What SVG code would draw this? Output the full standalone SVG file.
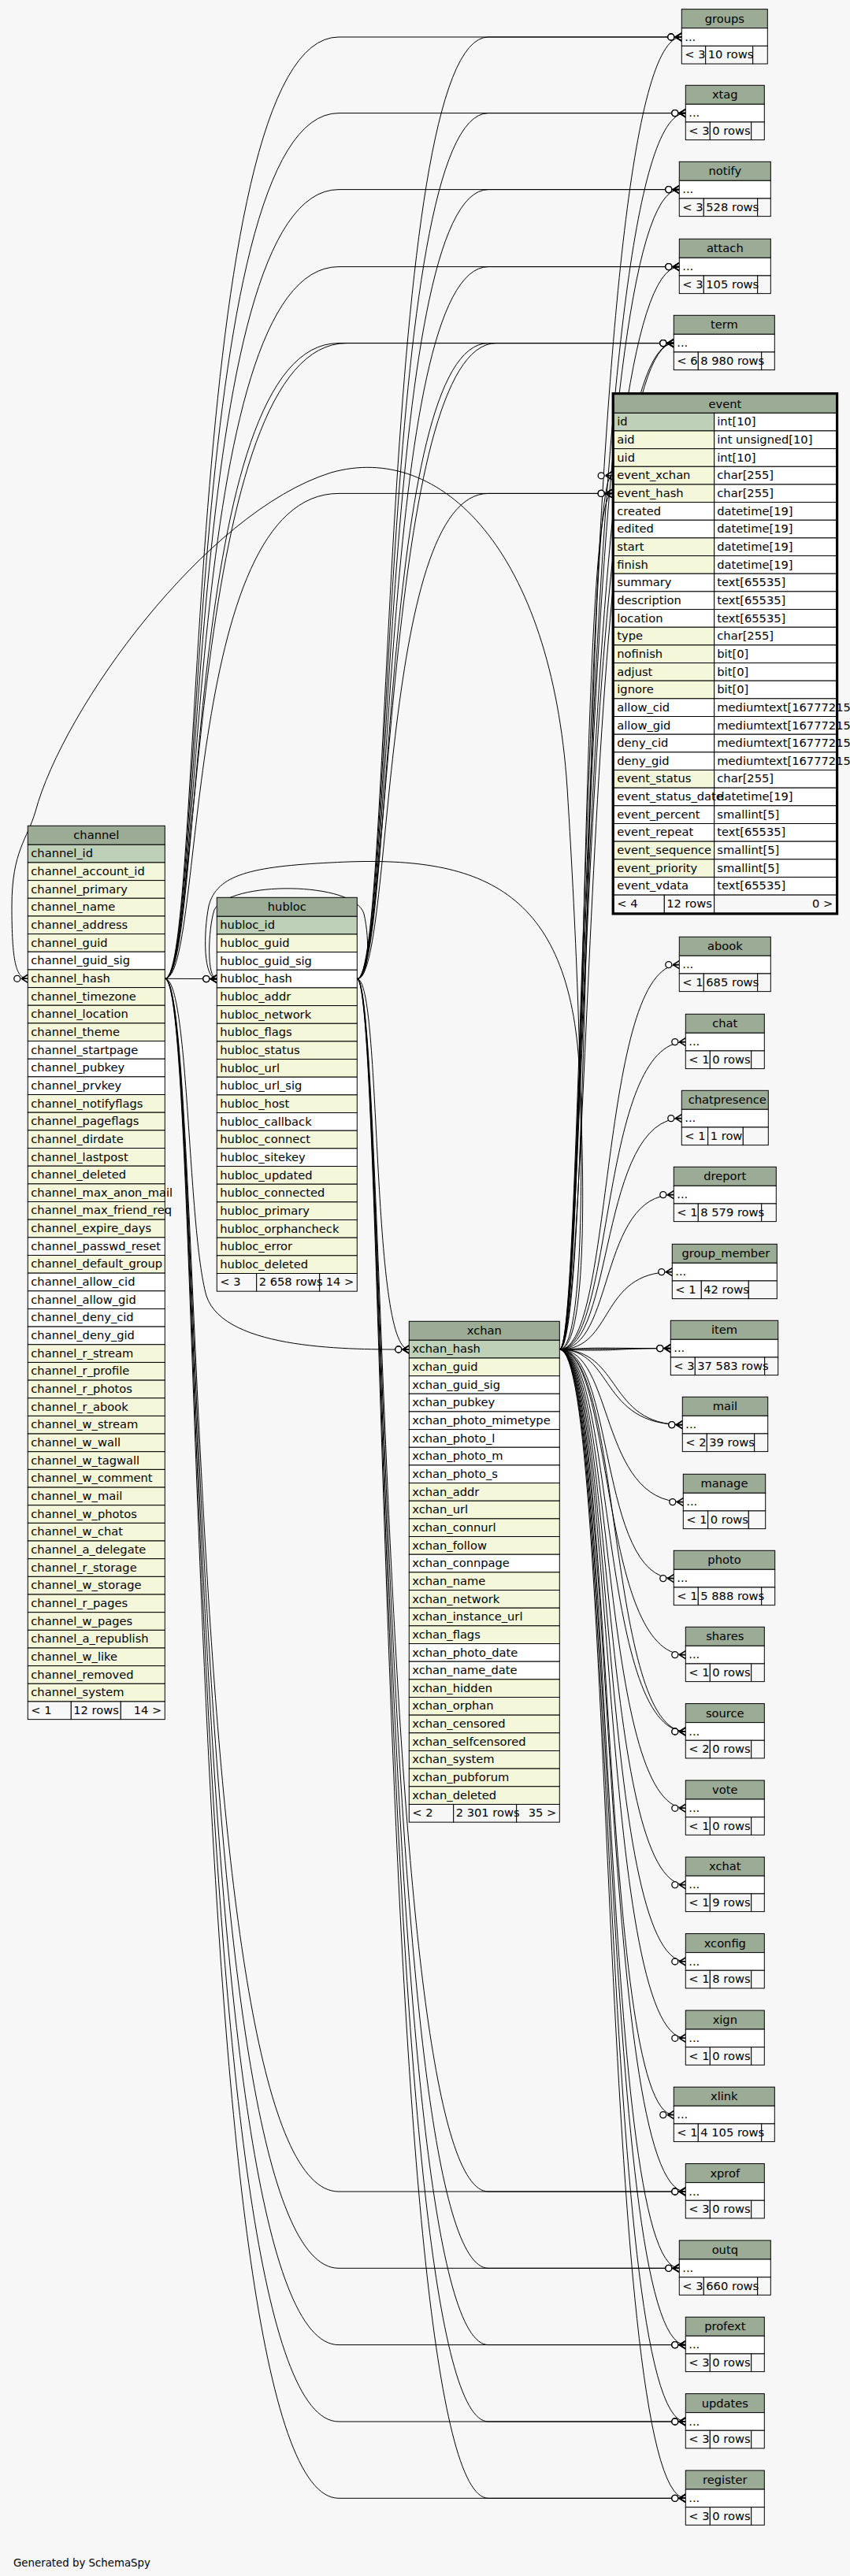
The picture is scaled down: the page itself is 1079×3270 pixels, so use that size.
<svg xmlns="http://www.w3.org/2000/svg" width="1079" height="3270" viewBox="0 0 1079 3270">
<defs>
<style>
text{font-family:"DejaVu Sans","Liberation Sans",sans-serif;font-size:14.67px;fill:#000}
.h{fill:#9bab96;stroke:#000}
.k{fill:#bed1b8;stroke:#000}
.i{fill:#f4f7da;stroke:#000}
.w{fill:#fff;stroke:#000}
.f{fill:#f7f7f7;stroke:#000}
.c{text-anchor:middle}
.r{text-anchor:end}
.e{fill:none;stroke:#000;stroke-width:1;marker-end:url(#cf)}
</style>
<marker id="cf" markerUnits="userSpaceOnUse" viewBox="0 0 20 12" markerWidth="20" markerHeight="12" refX="20" refY="6" orient="auto">
<path d="M12,6 L20,1 M12,6 L20,6 M12,6 L20,11" fill="none" stroke="#000" stroke-width="1.6"/>
<circle cx="6.5" cy="6" r="4" fill="#fff" stroke="#000" stroke-width="1.3"/>
</marker>
</defs>
<rect width="1079" height="3270" fill="#f7f7f7"/>
<g id="connectors">
<path class="e" d="M209.3,1242.3L275.3,1242.6"/>
<path class="e" d="M209.3,1242.3C240,1242.3 238,1560 262,1645C285,1715 450,1713 519.3,1713"/>
<path class="e" d="M453.3,1242.6C485,1242.6 470,1713 519.3,1713"/>
<path class="e" d="M710.3,1713C745,1713 745,1400 720,1000C700,700 560,560 420,600C260,650 80,900 45,1030C35,1065 15,1080 15,1150C15,1220 20,1242.3 35.3,1242.3"/>
<path class="e" d="M710.3,1713C740,1713 745,1550 735,1350C720,1120 600,1085 420,1095C320,1100 275,1110 265,1150C258,1185 258,1242.6 275.3,1242.6"/>
<path class="e" d="M453.3,1242.6C468,1242.6 470,1195 462,1160C450,1118 290,1118 272,1155C264,1180 262,1242.6 275.3,1242.6"/>
<path class="e" d="M710.3,1713C745,1713 735,47 865.3,47"/>
<path class="e" d="M710.3,1713C745,1713 735,143.6 870.3,143.6"/>
<path class="e" d="M710.3,1713C745,1713 735,240.6 862.3,240.6"/>
<path class="e" d="M710.3,1713C745,1713 735,338.6 862.3,338.6"/>
<path class="e" d="M710.3,1713C745,1713 735,435.6 855.3,435.6"/>
<path class="e" d="M710.3,1713C750,1713 742,435.6 855.3,435.6"/>
<path class="e" d="M710.3,1713C745,1713 735,626.4 776.7,626.4"/>
<path class="e" d="M710.3,1713C750,1713 742,603.8 776.7,603.8"/>
<path class="e" d="M209.3,1242.3C260,1242.3 230,47 430,47L865.3,47"/>
<path class="e" d="M209.3,1242.3C260,1242.3 230,143.6 430,143.6L870.3,143.6"/>
<path class="e" d="M209.3,1242.3C260,1242.3 230,240.6 430,240.6L862.3,240.6"/>
<path class="e" d="M209.3,1242.3C260,1242.3 230,338.6 430,338.6L862.3,338.6"/>
<path class="e" d="M209.3,1242.3C260,1242.3 230,435.6 430,435.6L855.3,435.6"/>
<path class="e" d="M209.3,1242.3C255,1242.3 238,435.6 440,435.6L855.3,435.6"/>
<path class="e" d="M209.3,1242.3C260,1242.3 230,626.4 430,626.4L776.7,626.4"/>
<path class="e" d="M453.3,1242.6C500,1242.6 480,47 620,47L865.3,47"/>
<path class="e" d="M453.3,1242.6C500,1242.6 480,143.6 620,143.6L870.3,143.6"/>
<path class="e" d="M453.3,1242.6C500,1242.6 480,240.6 620,240.6L862.3,240.6"/>
<path class="e" d="M453.3,1242.6C500,1242.6 480,338.6 620,338.6L862.3,338.6"/>
<path class="e" d="M453.3,1242.6C500,1242.6 480,435.6 620,435.6L855.3,435.6"/>
<path class="e" d="M453.3,1242.6C496,1242.6 487,435.6 630,435.6L855.3,435.6"/>
<path class="e" d="M453.3,1242.6C500,1242.6 480,626.4 620,626.4L776.7,626.4"/>
<path class="e" d="M710.3,1713C780,1713 760,1224.6 862.3,1224.6"/>
<path class="e" d="M710.3,1713C780,1713 760,1322.6 870.3,1322.6"/>
<path class="e" d="M710.3,1713C780,1713 760,1419.6 865.3,1419.6"/>
<path class="e" d="M710.3,1713C780,1713 760,1516.6 855.3,1516.6"/>
<path class="e" d="M710.3,1713C780,1713 760,1614.6 853.3,1614.6"/>
<path class="e" d="M710.3,1713C780,1713 760,1711.6 851.3,1711.6"/>
<path class="e" d="M710.3,1713C770,1710 750,1711.6 851.3,1711.6"/>
<path class="e" d="M710.3,1713C790,1716 770,1711.6 851.3,1711.6"/>
<path class="e" d="M710.3,1713C780,1713 760,1808.6 866.3,1808.6"/>
<path class="e" d="M710.3,1713C790,1713 770,1808.6 866.3,1808.6"/>
<path class="e" d="M710.3,1713C780,1713 760,1906.6 867.3,1906.6"/>
<path class="e" d="M710.3,1713C780,1713 760,2003.6 855.3,2003.6"/>
<path class="e" d="M710.3,1713C780,1713 760,2100.6 870.3,2100.6"/>
<path class="e" d="M710.3,1713C780,1713 760,2198 870.3,2198"/>
<path class="e" d="M710.3,1713C790,1713 770,2198 870.3,2198"/>
<path class="e" d="M710.3,1713C780,1713 760,2295.3 870.3,2295.3"/>
<path class="e" d="M710.3,1713C780,1713 760,2392.6 870.3,2392.6"/>
<path class="e" d="M710.3,1713C780,1713 760,2490 870.3,2490"/>
<path class="e" d="M710.3,1713C780,1713 760,2587.3 870.3,2587.3"/>
<path class="e" d="M710.3,1713C780,1713 760,2684.6 855.3,2684.6"/>
<path class="e" d="M710.3,1713C780,1713 760,2782 870.3,2782"/>
<path class="e" d="M710.3,1713C780,1713 760,2879.3 862.3,2879.3"/>
<path class="e" d="M710.3,1713C780,1713 760,2976.6 870.3,2976.6"/>
<path class="e" d="M710.3,1713C780,1713 760,3074 870.3,3074"/>
<path class="e" d="M710.3,1713C780,1713 760,3171.3 870.3,3171.3"/>
<path class="e" d="M209.3,1242.3C260,1242.3 230,2782 430,2782L870.3,2782"/>
<path class="e" d="M209.3,1242.3C260,1242.3 230,2879.3 430,2879.3L862.3,2879.3"/>
<path class="e" d="M209.3,1242.3C260,1242.3 230,2976.6 430,2976.6L870.3,2976.6"/>
<path class="e" d="M209.3,1242.3C260,1242.3 230,3074 430,3074L870.3,3074"/>
<path class="e" d="M209.3,1242.3C260,1242.3 230,3171.3 430,3171.3L870.3,3171.3"/>
<path class="e" d="M453.3,1242.6C490,1242.6 480,2782 620,2782L870.3,2782"/>
<path class="e" d="M453.3,1242.6C490,1242.6 480,2879.3 620,2879.3L862.3,2879.3"/>
<path class="e" d="M453.3,1242.6C490,1242.6 480,2976.6 620,2976.6L870.3,2976.6"/>
<path class="e" d="M453.3,1242.6C490,1242.6 480,3074 620,3074L870.3,3074"/>
<path class="e" d="M453.3,1242.6C490,1242.6 480,3171.3 620,3171.3L870.3,3171.3"/>
</g>
<g id="channel" transform="translate(35.3,1048.3)">
<rect class="h" width="174" height="24"/><text class="c" x="87" y="17">channel</text>
<rect class="k" y="24" width="174" height="22.66"/><text x="4" y="40">channel_id</text>
<rect class="i" y="46.66" width="174" height="22.66"/><text x="4" y="62.66">channel_account_id</text>
<rect class="i" y="69.32" width="174" height="22.66"/><text x="4" y="85.32">channel_primary</text>
<rect class="i" y="91.98" width="174" height="22.66"/><text x="4" y="107.98">channel_name</text>
<rect class="i" y="114.64" width="174" height="22.66"/><text x="4" y="130.64">channel_address</text>
<rect class="i" y="137.3" width="174" height="22.66"/><text x="4" y="153.3">channel_guid</text>
<rect class="w" y="159.96" width="174" height="22.66"/><text x="4" y="175.96">channel_guid_sig</text>
<rect class="i" y="182.62" width="174" height="22.66"/><text x="4" y="198.62">channel_hash</text>
<rect class="i" y="205.28" width="174" height="22.66"/><text x="4" y="221.28">channel_timezone</text>
<rect class="i" y="227.94" width="174" height="22.66"/><text x="4" y="243.94">channel_location</text>
<rect class="i" y="250.6" width="174" height="22.66"/><text x="4" y="266.6">channel_theme</text>
<rect class="w" y="273.26" width="174" height="22.66"/><text x="4" y="289.26">channel_startpage</text>
<rect class="w" y="295.92" width="174" height="22.66"/><text x="4" y="311.92">channel_pubkey</text>
<rect class="w" y="318.58" width="174" height="22.66"/><text x="4" y="334.58">channel_prvkey</text>
<rect class="i" y="341.24" width="174" height="22.66"/><text x="4" y="357.24">channel_notifyflags</text>
<rect class="i" y="363.9" width="174" height="22.66"/><text x="4" y="379.9">channel_pageflags</text>
<rect class="i" y="386.56" width="174" height="22.66"/><text x="4" y="402.56">channel_dirdate</text>
<rect class="i" y="409.22" width="174" height="22.66"/><text x="4" y="425.22">channel_lastpost</text>
<rect class="i" y="431.88" width="174" height="22.66"/><text x="4" y="447.88">channel_deleted</text>
<rect class="i" y="454.54" width="174" height="22.66"/><text x="4" y="470.54">channel_max_anon_mail</text>
<rect class="i" y="477.2" width="174" height="22.66"/><text x="4" y="493.2">channel_max_friend_req</text>
<rect class="i" y="499.86" width="174" height="22.66"/><text x="4" y="515.86">channel_expire_days</text>
<rect class="w" y="522.52" width="174" height="22.66"/><text x="4" y="538.52">channel_passwd_reset</text>
<rect class="i" y="545.18" width="174" height="22.66"/><text x="4" y="561.18">channel_default_group</text>
<rect class="w" y="567.84" width="174" height="22.66"/><text x="4" y="583.84">channel_allow_cid</text>
<rect class="w" y="590.5" width="174" height="22.66"/><text x="4" y="606.5">channel_allow_gid</text>
<rect class="w" y="613.16" width="174" height="22.66"/><text x="4" y="629.16">channel_deny_cid</text>
<rect class="w" y="635.82" width="174" height="22.66"/><text x="4" y="651.82">channel_deny_gid</text>
<rect class="i" y="658.48" width="174" height="22.66"/><text x="4" y="674.48">channel_r_stream</text>
<rect class="i" y="681.14" width="174" height="22.66"/><text x="4" y="697.14">channel_r_profile</text>
<rect class="i" y="703.8" width="174" height="22.66"/><text x="4" y="719.8">channel_r_photos</text>
<rect class="i" y="726.46" width="174" height="22.66"/><text x="4" y="742.46">channel_r_abook</text>
<rect class="i" y="749.12" width="174" height="22.66"/><text x="4" y="765.12">channel_w_stream</text>
<rect class="i" y="771.78" width="174" height="22.66"/><text x="4" y="787.78">channel_w_wall</text>
<rect class="i" y="794.44" width="174" height="22.66"/><text x="4" y="810.44">channel_w_tagwall</text>
<rect class="i" y="817.1" width="174" height="22.66"/><text x="4" y="833.1">channel_w_comment</text>
<rect class="i" y="839.76" width="174" height="22.66"/><text x="4" y="855.76">channel_w_mail</text>
<rect class="i" y="862.42" width="174" height="22.66"/><text x="4" y="878.42">channel_w_photos</text>
<rect class="i" y="885.08" width="174" height="22.66"/><text x="4" y="901.08">channel_w_chat</text>
<rect class="i" y="907.74" width="174" height="22.66"/><text x="4" y="923.74">channel_a_delegate</text>
<rect class="i" y="930.4" width="174" height="22.66"/><text x="4" y="946.4">channel_r_storage</text>
<rect class="i" y="953.06" width="174" height="22.66"/><text x="4" y="969.06">channel_w_storage</text>
<rect class="i" y="975.72" width="174" height="22.66"/><text x="4" y="991.72">channel_r_pages</text>
<rect class="i" y="998.38" width="174" height="22.66"/><text x="4" y="1014.38">channel_w_pages</text>
<rect class="i" y="1021.04" width="174" height="22.66"/><text x="4" y="1037.04">channel_a_republish</text>
<rect class="i" y="1043.7" width="174" height="22.66"/><text x="4" y="1059.7">channel_w_like</text>
<rect class="i" y="1066.36" width="174" height="22.66"/><text x="4" y="1082.36">channel_removed</text>
<rect class="i" y="1089.02" width="174" height="22.66"/><text x="4" y="1105.02">channel_system</text>
<rect class="f" y="1111.68" width="55" height="22.66"/><rect class="f" x="55" y="1111.68" width="63" height="22.66"/><rect class="f" x="118" y="1111.68" width="56" height="22.66"/>
<text x="4" y="1127.68">&lt; 1</text><text x="58" y="1127.68">12 rows</text><text class="r" x="170" y="1127.68">14 &gt;</text>
</g>
<g id="hubloc" transform="translate(275.3,1139.3)">
<rect class="h" width="178" height="24"/><text class="c" x="89" y="17">hubloc</text>
<rect class="k" y="24" width="178" height="22.66"/><text x="4" y="40">hubloc_id</text>
<rect class="i" y="46.66" width="178" height="22.66"/><text x="4" y="62.66">hubloc_guid</text>
<rect class="w" y="69.32" width="178" height="22.66"/><text x="4" y="85.32">hubloc_guid_sig</text>
<rect class="w" y="91.98" width="178" height="22.66"/><text x="4" y="107.98">hubloc_hash</text>
<rect class="i" y="114.64" width="178" height="22.66"/><text x="4" y="130.64">hubloc_addr</text>
<rect class="i" y="137.3" width="178" height="22.66"/><text x="4" y="153.3">hubloc_network</text>
<rect class="i" y="159.96" width="178" height="22.66"/><text x="4" y="175.96">hubloc_flags</text>
<rect class="i" y="182.62" width="178" height="22.66"/><text x="4" y="198.62">hubloc_status</text>
<rect class="i" y="205.28" width="178" height="22.66"/><text x="4" y="221.28">hubloc_url</text>
<rect class="w" y="227.94" width="178" height="22.66"/><text x="4" y="243.94">hubloc_url_sig</text>
<rect class="i" y="250.6" width="178" height="22.66"/><text x="4" y="266.6">hubloc_host</text>
<rect class="w" y="273.26" width="178" height="22.66"/><text x="4" y="289.26">hubloc_callback</text>
<rect class="i" y="295.92" width="178" height="22.66"/><text x="4" y="311.92">hubloc_connect</text>
<rect class="w" y="318.58" width="178" height="22.66"/><text x="4" y="334.58">hubloc_sitekey</text>
<rect class="i" y="341.24" width="178" height="22.66"/><text x="4" y="357.24">hubloc_updated</text>
<rect class="i" y="363.9" width="178" height="22.66"/><text x="4" y="379.9">hubloc_connected</text>
<rect class="i" y="386.56" width="178" height="22.66"/><text x="4" y="402.56">hubloc_primary</text>
<rect class="i" y="409.22" width="178" height="22.66"/><text x="4" y="425.22">hubloc_orphancheck</text>
<rect class="i" y="431.88" width="178" height="22.66"/><text x="4" y="447.88">hubloc_error</text>
<rect class="i" y="454.54" width="178" height="22.66"/><text x="4" y="470.54">hubloc_deleted</text>
<rect class="f" y="477.2" width="50.4" height="22.66"/><rect class="f" x="50.4" y="477.2" width="80" height="22.66"/><rect class="f" x="130.4" y="477.2" width="47.6" height="22.66"/>
<text x="4" y="493.2">&lt; 3</text><text x="53.4" y="493.2">2 658 rows</text><text class="r" x="174" y="493.2">14 &gt;</text>
</g>
<g id="xchan" transform="translate(519.3,1677.3)">
<rect class="h" width="191" height="24"/><text class="c" x="95.5" y="17">xchan</text>
<rect class="k" y="24" width="191" height="22.66"/><text x="4" y="40">xchan_hash</text>
<rect class="i" y="46.66" width="191" height="22.66"/><text x="4" y="62.66">xchan_guid</text>
<rect class="w" y="69.32" width="191" height="22.66"/><text x="4" y="85.32">xchan_guid_sig</text>
<rect class="w" y="91.98" width="191" height="22.66"/><text x="4" y="107.98">xchan_pubkey</text>
<rect class="w" y="114.64" width="191" height="22.66"/><text x="4" y="130.64">xchan_photo_mimetype</text>
<rect class="w" y="137.3" width="191" height="22.66"/><text x="4" y="153.3">xchan_photo_l</text>
<rect class="w" y="159.96" width="191" height="22.66"/><text x="4" y="175.96">xchan_photo_m</text>
<rect class="w" y="182.62" width="191" height="22.66"/><text x="4" y="198.62">xchan_photo_s</text>
<rect class="i" y="205.28" width="191" height="22.66"/><text x="4" y="221.28">xchan_addr</text>
<rect class="i" y="227.94" width="191" height="22.66"/><text x="4" y="243.94">xchan_url</text>
<rect class="i" y="250.6" width="191" height="22.66"/><text x="4" y="266.6">xchan_connurl</text>
<rect class="i" y="273.26" width="191" height="22.66"/><text x="4" y="289.26">xchan_follow</text>
<rect class="w" y="295.92" width="191" height="22.66"/><text x="4" y="311.92">xchan_connpage</text>
<rect class="i" y="318.58" width="191" height="22.66"/><text x="4" y="334.58">xchan_name</text>
<rect class="i" y="341.24" width="191" height="22.66"/><text x="4" y="357.24">xchan_network</text>
<rect class="i" y="363.9" width="191" height="22.66"/><text x="4" y="379.9">xchan_instance_url</text>
<rect class="i" y="386.56" width="191" height="22.66"/><text x="4" y="402.56">xchan_flags</text>
<rect class="w" y="409.22" width="191" height="22.66"/><text x="4" y="425.22">xchan_photo_date</text>
<rect class="w" y="431.88" width="191" height="22.66"/><text x="4" y="447.88">xchan_name_date</text>
<rect class="i" y="454.54" width="191" height="22.66"/><text x="4" y="470.54">xchan_hidden</text>
<rect class="i" y="477.2" width="191" height="22.66"/><text x="4" y="493.2">xchan_orphan</text>
<rect class="i" y="499.86" width="191" height="22.66"/><text x="4" y="515.86">xchan_censored</text>
<rect class="i" y="522.52" width="191" height="22.66"/><text x="4" y="538.52">xchan_selfcensored</text>
<rect class="i" y="545.18" width="191" height="22.66"/><text x="4" y="561.18">xchan_system</text>
<rect class="i" y="567.84" width="191" height="22.66"/><text x="4" y="583.84">xchan_pubforum</text>
<rect class="i" y="590.5" width="191" height="22.66"/><text x="4" y="606.5">xchan_deleted</text>
<rect class="f" y="613.16" width="56.4" height="22.66"/><rect class="f" x="56.4" y="613.16" width="80" height="22.66"/><rect class="f" x="136.4" y="613.16" width="54.6" height="22.66"/>
<text x="4" y="629.16">&lt; 2</text><text x="59.4" y="629.16">2 301 rows</text><text class="r" x="187" y="629.16">35 &gt;</text>
</g>
<g id="event" transform="translate(779.3,500.7)">
<rect class="h" width="282.2" height="23.6"/><text class="c" x="141.1" y="17">event</text>
<rect class="k" y="23.6" width="127.4" height="22.66"/><rect class="w" x="127.4" y="23.6" width="154.8" height="22.66"/><text x="4" y="39.6">id</text><text x="131" y="39.6">int[10]</text>
<rect class="i" y="46.26" width="127.4" height="22.66"/><rect class="w" x="127.4" y="46.26" width="154.8" height="22.66"/><text x="4" y="62.26">aid</text><text x="131" y="62.26">int unsigned[10]</text>
<rect class="i" y="68.92" width="127.4" height="22.66"/><rect class="w" x="127.4" y="68.92" width="154.8" height="22.66"/><text x="4" y="84.92">uid</text><text x="131" y="84.92">int[10]</text>
<rect class="i" y="91.58" width="127.4" height="22.66"/><rect class="w" x="127.4" y="91.58" width="154.8" height="22.66"/><text x="4" y="107.58">event_xchan</text><text x="131" y="107.58">char[255]</text>
<rect class="i" y="114.24" width="127.4" height="22.66"/><rect class="w" x="127.4" y="114.24" width="154.8" height="22.66"/><text x="4" y="130.24">event_hash</text><text x="131" y="130.24">char[255]</text>
<rect class="w" y="136.9" width="127.4" height="22.66"/><rect class="w" x="127.4" y="136.9" width="154.8" height="22.66"/><text x="4" y="152.9">created</text><text x="131" y="152.9">datetime[19]</text>
<rect class="w" y="159.56" width="127.4" height="22.66"/><rect class="w" x="127.4" y="159.56" width="154.8" height="22.66"/><text x="4" y="175.56">edited</text><text x="131" y="175.56">datetime[19]</text>
<rect class="i" y="182.22" width="127.4" height="22.66"/><rect class="w" x="127.4" y="182.22" width="154.8" height="22.66"/><text x="4" y="198.22">start</text><text x="131" y="198.22">datetime[19]</text>
<rect class="i" y="204.88" width="127.4" height="22.66"/><rect class="w" x="127.4" y="204.88" width="154.8" height="22.66"/><text x="4" y="220.88">finish</text><text x="131" y="220.88">datetime[19]</text>
<rect class="w" y="227.54" width="127.4" height="22.66"/><rect class="w" x="127.4" y="227.54" width="154.8" height="22.66"/><text x="4" y="243.54">summary</text><text x="131" y="243.54">text[65535]</text>
<rect class="w" y="250.2" width="127.4" height="22.66"/><rect class="w" x="127.4" y="250.2" width="154.8" height="22.66"/><text x="4" y="266.2">description</text><text x="131" y="266.2">text[65535]</text>
<rect class="w" y="272.86" width="127.4" height="22.66"/><rect class="w" x="127.4" y="272.86" width="154.8" height="22.66"/><text x="4" y="288.86">location</text><text x="131" y="288.86">text[65535]</text>
<rect class="i" y="295.52" width="127.4" height="22.66"/><rect class="w" x="127.4" y="295.52" width="154.8" height="22.66"/><text x="4" y="311.52">type</text><text x="131" y="311.52">char[255]</text>
<rect class="i" y="318.18" width="127.4" height="22.66"/><rect class="w" x="127.4" y="318.18" width="154.8" height="22.66"/><text x="4" y="334.18">nofinish</text><text x="131" y="334.18">bit[0]</text>
<rect class="i" y="340.84" width="127.4" height="22.66"/><rect class="w" x="127.4" y="340.84" width="154.8" height="22.66"/><text x="4" y="356.84">adjust</text><text x="131" y="356.84">bit[0]</text>
<rect class="i" y="363.5" width="127.4" height="22.66"/><rect class="w" x="127.4" y="363.5" width="154.8" height="22.66"/><text x="4" y="379.5">ignore</text><text x="131" y="379.5">bit[0]</text>
<rect class="w" y="386.16" width="127.4" height="22.66"/><rect class="w" x="127.4" y="386.16" width="154.8" height="22.66"/><text x="4" y="402.16">allow_cid</text><text x="131" y="402.16">mediumtext[16777215]</text>
<rect class="w" y="408.82" width="127.4" height="22.66"/><rect class="w" x="127.4" y="408.82" width="154.8" height="22.66"/><text x="4" y="424.82">allow_gid</text><text x="131" y="424.82">mediumtext[16777215]</text>
<rect class="w" y="431.48" width="127.4" height="22.66"/><rect class="w" x="127.4" y="431.48" width="154.8" height="22.66"/><text x="4" y="447.48">deny_cid</text><text x="131" y="447.48">mediumtext[16777215]</text>
<rect class="w" y="454.14" width="127.4" height="22.66"/><rect class="w" x="127.4" y="454.14" width="154.8" height="22.66"/><text x="4" y="470.14">deny_gid</text><text x="131" y="470.14">mediumtext[16777215]</text>
<rect class="i" y="476.8" width="127.4" height="22.66"/><rect class="w" x="127.4" y="476.8" width="154.8" height="22.66"/><text x="4" y="492.8">event_status</text><text x="131" y="492.8">char[255]</text>
<rect class="w" y="499.46" width="127.4" height="22.66"/><rect class="w" x="127.4" y="499.46" width="154.8" height="22.66"/><text x="4" y="515.46">event_status_date</text><text x="131" y="515.46">datetime[19]</text>
<rect class="w" y="522.12" width="127.4" height="22.66"/><rect class="w" x="127.4" y="522.12" width="154.8" height="22.66"/><text x="4" y="538.12">event_percent</text><text x="131" y="538.12">smallint[5]</text>
<rect class="w" y="544.78" width="127.4" height="22.66"/><rect class="w" x="127.4" y="544.78" width="154.8" height="22.66"/><text x="4" y="560.78">event_repeat</text><text x="131" y="560.78">text[65535]</text>
<rect class="i" y="567.44" width="127.4" height="22.66"/><rect class="w" x="127.4" y="567.44" width="154.8" height="22.66"/><text x="4" y="583.44">event_sequence</text><text x="131" y="583.44">smallint[5]</text>
<rect class="i" y="590.1" width="127.4" height="22.66"/><rect class="w" x="127.4" y="590.1" width="154.8" height="22.66"/><text x="4" y="606.1">event_priority</text><text x="131" y="606.1">smallint[5]</text>
<rect class="w" y="612.76" width="127.4" height="22.66"/><rect class="w" x="127.4" y="612.76" width="154.8" height="22.66"/><text x="4" y="628.76">event_vdata</text><text x="131" y="628.76">text[65535]</text>
<rect class="f" y="635.42" width="64" height="22.66"/><rect class="f" x="64" y="635.42" width="63.4" height="22.66"/><rect class="f" x="127.4" y="635.42" width="154.8" height="22.66"/>
<text x="4" y="651.42">&lt; 4</text><text x="67" y="651.42">12 rows</text><text class="r" x="278" y="651.42">0 &gt;</text>
<rect x="-1.4" y="-1.4" width="285" height="660.9" fill="none" stroke="#000" stroke-width="2.6"/>
</g>
<g id="groups" transform="translate(865.3,11.7)"><rect class="h" width="109" height="24"/><text class="c" x="54.5" y="17">groups</text><rect class="w" y="24" width="109" height="22.66"/><text x="4" y="40">...</text><rect class="f" y="46.66" width="30.4" height="22.66"/><rect class="f" x="30.4" y="46.66" width="60" height="22.66"/><rect class="f" x="90.4" y="46.66" width="18.6" height="22.66"/><text x="4" y="62.66">&lt; 3</text><text x="33.4" y="62.66">10 rows</text></g>
<g id="xtag" transform="translate(870.3,108.3)"><rect class="h" width="100" height="24"/><text class="c" x="50" y="17">xtag</text><rect class="w" y="24" width="100" height="22.66"/><text x="4" y="40">...</text><rect class="f" y="46.66" width="31" height="22.66"/><rect class="f" x="31" y="46.66" width="52.4" height="22.66"/><rect class="f" x="83.4" y="46.66" width="16.6" height="22.66"/><text x="4" y="62.66">&lt; 3</text><text x="34" y="62.66">0 rows</text></g>
<g id="notify" transform="translate(862.3,205.3)"><rect class="h" width="116" height="24"/><text class="c" x="58" y="17">notify</text><rect class="w" y="24" width="116" height="22.66"/><text x="4" y="40">...</text><rect class="f" y="46.66" width="31" height="22.66"/><rect class="f" x="31" y="46.66" width="68.4" height="22.66"/><rect class="f" x="99.4" y="46.66" width="16.6" height="22.66"/><text x="4" y="62.66">&lt; 3</text><text x="34" y="62.66">528 rows</text></g>
<g id="attach" transform="translate(862.3,303.3)"><rect class="h" width="116" height="24"/><text class="c" x="58" y="17">attach</text><rect class="w" y="24" width="116" height="22.66"/><text x="4" y="40">...</text><rect class="f" y="46.66" width="31" height="22.66"/><rect class="f" x="31" y="46.66" width="68.4" height="22.66"/><rect class="f" x="99.4" y="46.66" width="16.6" height="22.66"/><text x="4" y="62.66">&lt; 3</text><text x="34" y="62.66">105 rows</text></g>
<g id="term" transform="translate(855.3,400.3)"><rect class="h" width="128" height="24"/><text class="c" x="64" y="17">term</text><rect class="w" y="24" width="128" height="22.66"/><text x="4" y="40">...</text><rect class="f" y="46.66" width="31" height="22.66"/><rect class="f" x="31" y="46.66" width="80.4" height="22.66"/><rect class="f" x="111.4" y="46.66" width="16.6" height="22.66"/><text x="4" y="62.66">&lt; 6</text><text x="34" y="62.66">8 980 rows</text></g>
<g id="abook" transform="translate(862.3,1189.3)"><rect class="h" width="116" height="24"/><text class="c" x="58" y="17">abook</text><rect class="w" y="24" width="116" height="22.66"/><text x="4" y="40">...</text><rect class="f" y="46.66" width="31" height="22.66"/><rect class="f" x="31" y="46.66" width="68.4" height="22.66"/><rect class="f" x="99.4" y="46.66" width="16.6" height="22.66"/><text x="4" y="62.66">&lt; 1</text><text x="34" y="62.66">685 rows</text></g>
<g id="chat" transform="translate(870.3,1287.3)"><rect class="h" width="100" height="24"/><text class="c" x="50" y="17">chat</text><rect class="w" y="24" width="100" height="22.66"/><text x="4" y="40">...</text><rect class="f" y="46.66" width="31" height="22.66"/><rect class="f" x="31" y="46.66" width="52.4" height="22.66"/><rect class="f" x="83.4" y="46.66" width="16.6" height="22.66"/><text x="4" y="62.66">&lt; 1</text><text x="34" y="62.66">0 rows</text></g>
<g id="chatpresence" transform="translate(865.3,1384.3)"><rect class="h" width="110" height="24"/><text class="c" x="58" y="17">chatpresence</text><rect class="w" y="24" width="110" height="22.66"/><text x="4" y="40">...</text><rect class="f" y="46.66" width="33.4" height="22.66"/><rect class="f" x="33.4" y="46.66" width="44.6" height="22.66"/><rect class="f" x="78" y="46.66" width="32" height="22.66"/><text x="4" y="62.66">&lt; 1</text><text x="36.4" y="62.66">1 row</text></g>
<g id="dreport" transform="translate(855.3,1481.3)"><rect class="h" width="130" height="24"/><text class="c" x="65" y="17">dreport</text><rect class="w" y="24" width="130" height="22.66"/><text x="4" y="40">...</text><rect class="f" y="46.66" width="31" height="22.66"/><rect class="f" x="31" y="46.66" width="80.4" height="22.66"/><rect class="f" x="111.4" y="46.66" width="18.6" height="22.66"/><text x="4" y="62.66">&lt; 1</text><text x="34" y="62.66">8 579 rows</text></g>
<g id="group_member" transform="translate(853.3,1579.3)"><rect class="h" width="133" height="24"/><text class="c" x="68" y="17">group_member</text><rect class="w" y="24" width="133" height="22.66"/><text x="4" y="40">...</text><rect class="f" y="46.66" width="37" height="22.66"/><rect class="f" x="37" y="46.66" width="60" height="22.66"/><rect class="f" x="97" y="46.66" width="36" height="22.66"/><text x="4" y="62.66">&lt; 1</text><text x="40" y="62.66">42 rows</text></g>
<g id="item" transform="translate(851.3,1676.3)"><rect class="h" width="136.4" height="24"/><text class="c" x="68.2" y="17">item</text><rect class="w" y="24" width="136.4" height="22.66"/><text x="4" y="40">...</text><rect class="f" y="46.66" width="31" height="22.66"/><rect class="f" x="31" y="46.66" width="88.4" height="22.66"/><rect class="f" x="119.4" y="46.66" width="17" height="22.66"/><text x="4" y="62.66">&lt; 3</text><text x="34" y="62.66">37 583 rows</text></g>
<g id="mail" transform="translate(866.3,1773.3)"><rect class="h" width="108.4" height="24"/><text class="c" x="54.2" y="17">mail</text><rect class="w" y="24" width="108.4" height="22.66"/><text x="4" y="40">...</text><rect class="f" y="46.66" width="31" height="22.66"/><rect class="f" x="31" y="46.66" width="60.4" height="22.66"/><rect class="f" x="91.4" y="46.66" width="17" height="22.66"/><text x="4" y="62.66">&lt; 2</text><text x="34" y="62.66">39 rows</text></g>
<g id="manage" transform="translate(867.3,1871.3)"><rect class="h" width="104.4" height="24"/><text class="c" x="52.2" y="17">manage</text><rect class="w" y="24" width="104.4" height="22.66"/><text x="4" y="40">...</text><rect class="f" y="46.66" width="31.4" height="22.66"/><rect class="f" x="31.4" y="46.66" width="51.6" height="22.66"/><rect class="f" x="83" y="46.66" width="21.4" height="22.66"/><text x="4" y="62.66">&lt; 1</text><text x="34.4" y="62.66">0 rows</text></g>
<g id="photo" transform="translate(855.3,1968.3)"><rect class="h" width="128.4" height="24"/><text class="c" x="64.2" y="17">photo</text><rect class="w" y="24" width="128.4" height="22.66"/><text x="4" y="40">...</text><rect class="f" y="46.66" width="31" height="22.66"/><rect class="f" x="31" y="46.66" width="80.4" height="22.66"/><rect class="f" x="111.4" y="46.66" width="17" height="22.66"/><text x="4" y="62.66">&lt; 1</text><text x="34" y="62.66">5 888 rows</text></g>
<g id="shares" transform="translate(870.3,2065.3)"><rect class="h" width="100" height="24"/><text class="c" x="50" y="17">shares</text><rect class="w" y="24" width="100" height="22.66"/><text x="4" y="40">...</text><rect class="f" y="46.66" width="31" height="22.66"/><rect class="f" x="31" y="46.66" width="52.4" height="22.66"/><rect class="f" x="83.4" y="46.66" width="16.6" height="22.66"/><text x="4" y="62.66">&lt; 1</text><text x="34" y="62.66">0 rows</text></g>
<g id="source" transform="translate(870.3,2162.6)"><rect class="h" width="100" height="24"/><text class="c" x="50" y="17">source</text><rect class="w" y="24" width="100" height="22.66"/><text x="4" y="40">...</text><rect class="f" y="46.66" width="31" height="22.66"/><rect class="f" x="31" y="46.66" width="52.4" height="22.66"/><rect class="f" x="83.4" y="46.66" width="16.6" height="22.66"/><text x="4" y="62.66">&lt; 2</text><text x="34" y="62.66">0 rows</text></g>
<g id="vote" transform="translate(870.3,2260)"><rect class="h" width="100" height="24"/><text class="c" x="50" y="17">vote</text><rect class="w" y="24" width="100" height="22.66"/><text x="4" y="40">...</text><rect class="f" y="46.66" width="31" height="22.66"/><rect class="f" x="31" y="46.66" width="52.4" height="22.66"/><rect class="f" x="83.4" y="46.66" width="16.6" height="22.66"/><text x="4" y="62.66">&lt; 1</text><text x="34" y="62.66">0 rows</text></g>
<g id="xchat" transform="translate(870.3,2357.3)"><rect class="h" width="100" height="24"/><text class="c" x="50" y="17">xchat</text><rect class="w" y="24" width="100" height="22.66"/><text x="4" y="40">...</text><rect class="f" y="46.66" width="31" height="22.66"/><rect class="f" x="31" y="46.66" width="52.4" height="22.66"/><rect class="f" x="83.4" y="46.66" width="16.6" height="22.66"/><text x="4" y="62.66">&lt; 1</text><text x="34" y="62.66">9 rows</text></g>
<g id="xconfig" transform="translate(870.3,2454.6)"><rect class="h" width="100" height="24"/><text class="c" x="50" y="17">xconfig</text><rect class="w" y="24" width="100" height="22.66"/><text x="4" y="40">...</text><rect class="f" y="46.66" width="31" height="22.66"/><rect class="f" x="31" y="46.66" width="52.4" height="22.66"/><rect class="f" x="83.4" y="46.66" width="16.6" height="22.66"/><text x="4" y="62.66">&lt; 1</text><text x="34" y="62.66">8 rows</text></g>
<g id="xign" transform="translate(870.3,2552)"><rect class="h" width="100" height="24"/><text class="c" x="50" y="17">xign</text><rect class="w" y="24" width="100" height="22.66"/><text x="4" y="40">...</text><rect class="f" y="46.66" width="31" height="22.66"/><rect class="f" x="31" y="46.66" width="52.4" height="22.66"/><rect class="f" x="83.4" y="46.66" width="16.6" height="22.66"/><text x="4" y="62.66">&lt; 1</text><text x="34" y="62.66">0 rows</text></g>
<g id="xlink" transform="translate(855.3,2649.3)"><rect class="h" width="128" height="24"/><text class="c" x="64" y="17">xlink</text><rect class="w" y="24" width="128" height="22.66"/><text x="4" y="40">...</text><rect class="f" y="46.66" width="31" height="22.66"/><rect class="f" x="31" y="46.66" width="80.4" height="22.66"/><rect class="f" x="111.4" y="46.66" width="16.6" height="22.66"/><text x="4" y="62.66">&lt; 1</text><text x="34" y="62.66">4 105 rows</text></g>
<g id="xprof" transform="translate(870.3,2746.6)"><rect class="h" width="100" height="24"/><text class="c" x="50" y="17">xprof</text><rect class="w" y="24" width="100" height="22.66"/><text x="4" y="40">...</text><rect class="f" y="46.66" width="31" height="22.66"/><rect class="f" x="31" y="46.66" width="52.4" height="22.66"/><rect class="f" x="83.4" y="46.66" width="16.6" height="22.66"/><text x="4" y="62.66">&lt; 3</text><text x="34" y="62.66">0 rows</text></g>
<g id="outq" transform="translate(862.3,2844)"><rect class="h" width="116" height="24"/><text class="c" x="58" y="17">outq</text><rect class="w" y="24" width="116" height="22.66"/><text x="4" y="40">...</text><rect class="f" y="46.66" width="31" height="22.66"/><rect class="f" x="31" y="46.66" width="68.4" height="22.66"/><rect class="f" x="99.4" y="46.66" width="16.6" height="22.66"/><text x="4" y="62.66">&lt; 3</text><text x="34" y="62.66">660 rows</text></g>
<g id="profext" transform="translate(870.3,2941.3)"><rect class="h" width="100" height="24"/><text class="c" x="50" y="17">profext</text><rect class="w" y="24" width="100" height="22.66"/><text x="4" y="40">...</text><rect class="f" y="46.66" width="31" height="22.66"/><rect class="f" x="31" y="46.66" width="52.4" height="22.66"/><rect class="f" x="83.4" y="46.66" width="16.6" height="22.66"/><text x="4" y="62.66">&lt; 3</text><text x="34" y="62.66">0 rows</text></g>
<g id="updates" transform="translate(870.3,3038.6)"><rect class="h" width="100" height="24"/><text class="c" x="50" y="17">updates</text><rect class="w" y="24" width="100" height="22.66"/><text x="4" y="40">...</text><rect class="f" y="46.66" width="31" height="22.66"/><rect class="f" x="31" y="46.66" width="52.4" height="22.66"/><rect class="f" x="83.4" y="46.66" width="16.6" height="22.66"/><text x="4" y="62.66">&lt; 3</text><text x="34" y="62.66">0 rows</text></g>
<g id="register" transform="translate(870.3,3136)"><rect class="h" width="100" height="24"/><text class="c" x="50" y="17">register</text><rect class="w" y="24" width="100" height="22.66"/><text x="4" y="40">...</text><rect class="f" y="46.66" width="31" height="22.66"/><rect class="f" x="31" y="46.66" width="52.4" height="22.66"/><rect class="f" x="83.4" y="46.66" width="16.6" height="22.66"/><text x="4" y="62.66">&lt; 3</text><text x="34" y="62.66">0 rows</text></g>
<text x="17" y="3258" style="font-size:13.33px">Generated by SchemaSpy</text>
</svg>
